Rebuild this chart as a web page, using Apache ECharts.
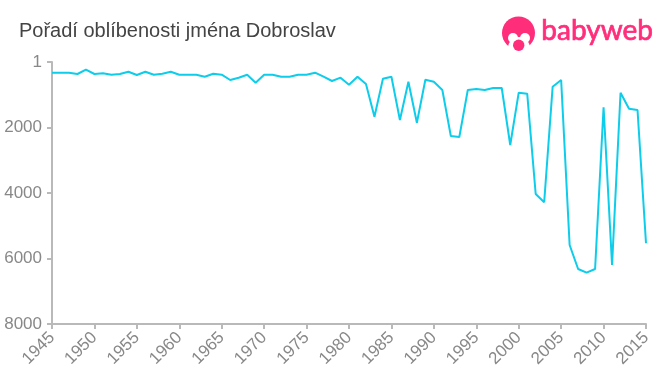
<!DOCTYPE html>
<html><head><meta charset="utf-8">
<style>html,body{margin:0;padding:0;background:#fff}#c{width:660px;height:375px}</style>
<script src="https://cdn.jsdelivr.net/npm/echarts@6/dist/echarts.min.js"></script>
</head><body><div id="c"></div>
<script>
const titleText = 'Pořadí oblíbenosti jména Dobroslav';
const brandText = 'babyweb';
const years = [];
for (let y = 1945; y <= 2015; y++) years.push(String(y));
const ranks = [327,327,327,366,235,366,345,388,366,296,397,296,388,357,296,388,388,388,449,357,388,550,479,388,632,388,388,449,449,388,388,327,449,580,479,693,449,672,1670,510,449,1771,601,1853,540,601,855,2259,2290,855,824,855,794,794,2534,937,968,4030,4283,754,550,5587,6320,6433,6320,1383,6198,937,1426,1465,5535];
const yTicks = ['1','2000','4000','6000','8000'];
const chart = echarts.init(document.getElementById('c'), null, {renderer:'canvas'});
const pink = '#ff2d7a';
chart.setOption({
  animation:false,
  backgroundColor:'#fff',
  title:{text:titleText,left:19,top:21,padding:0,textStyle:{fontFamily:'Liberation Sans',fontSize:20,fontWeight:'normal',color:'#444'}},
  grid:{left:52,right:14,top:62,bottom:51},
  xAxis:{type:'category',data:years,boundaryGap:false,
    axisLine:{onZero:false,lineStyle:{color:'#b9b9b9',width:2}},
    axisTick:{alignWithLabel:true,interval:(i)=>i%5===0,length:5,lineStyle:{color:'#b9b9b9',width:2}},
    axisLabel:{interval:(i)=>i%5===0,rotate:45,margin:11,color:'#888',fontFamily:'Liberation Sans',fontSize:17}},
  yAxis:{type:'value',inverse:true,min:0,max:8000,interval:2000,
    axisLine:{show:true,lineStyle:{color:'#b9b9b9',width:2}},
    axisTick:{show:true,length:5,lineStyle:{color:'#b9b9b9',width:2}},
    splitLine:{show:false},
    axisLabel:{margin:10,color:'#888',fontFamily:'Liberation Sans',fontSize:17,formatter:(v)=>yTicks[v/2000]}},
  series:[{type:'line',data:ranks,symbol:'none',smooth:false,lineStyle:{color:'#0dcdea',width:2}}],
  graphic:[
    {type:'circle',shape:{cx:518.5,cy:33,r:16.5},style:{fill:pink}},
    {type:'circle',shape:{cx:519,cy:48,r:11},style:{fill:'#fff'}},
    {type:'circle',shape:{cx:513,cy:38,r:5},style:{fill:'#fff'}},
    {type:'circle',shape:{cx:525,cy:38,r:5},style:{fill:'#fff'}},
    {type:'circle',shape:{cx:518.7,cy:45.3,r:5.7},style:{fill:pink}},
    {type:'text',left:541,top:17,style:{text:brandText,fill:pink,stroke:pink,lineWidth:0.7,fontFamily:'Lato',fontSize:28,fontWeight:'normal'}}
  ]
});
</script></body></html>
